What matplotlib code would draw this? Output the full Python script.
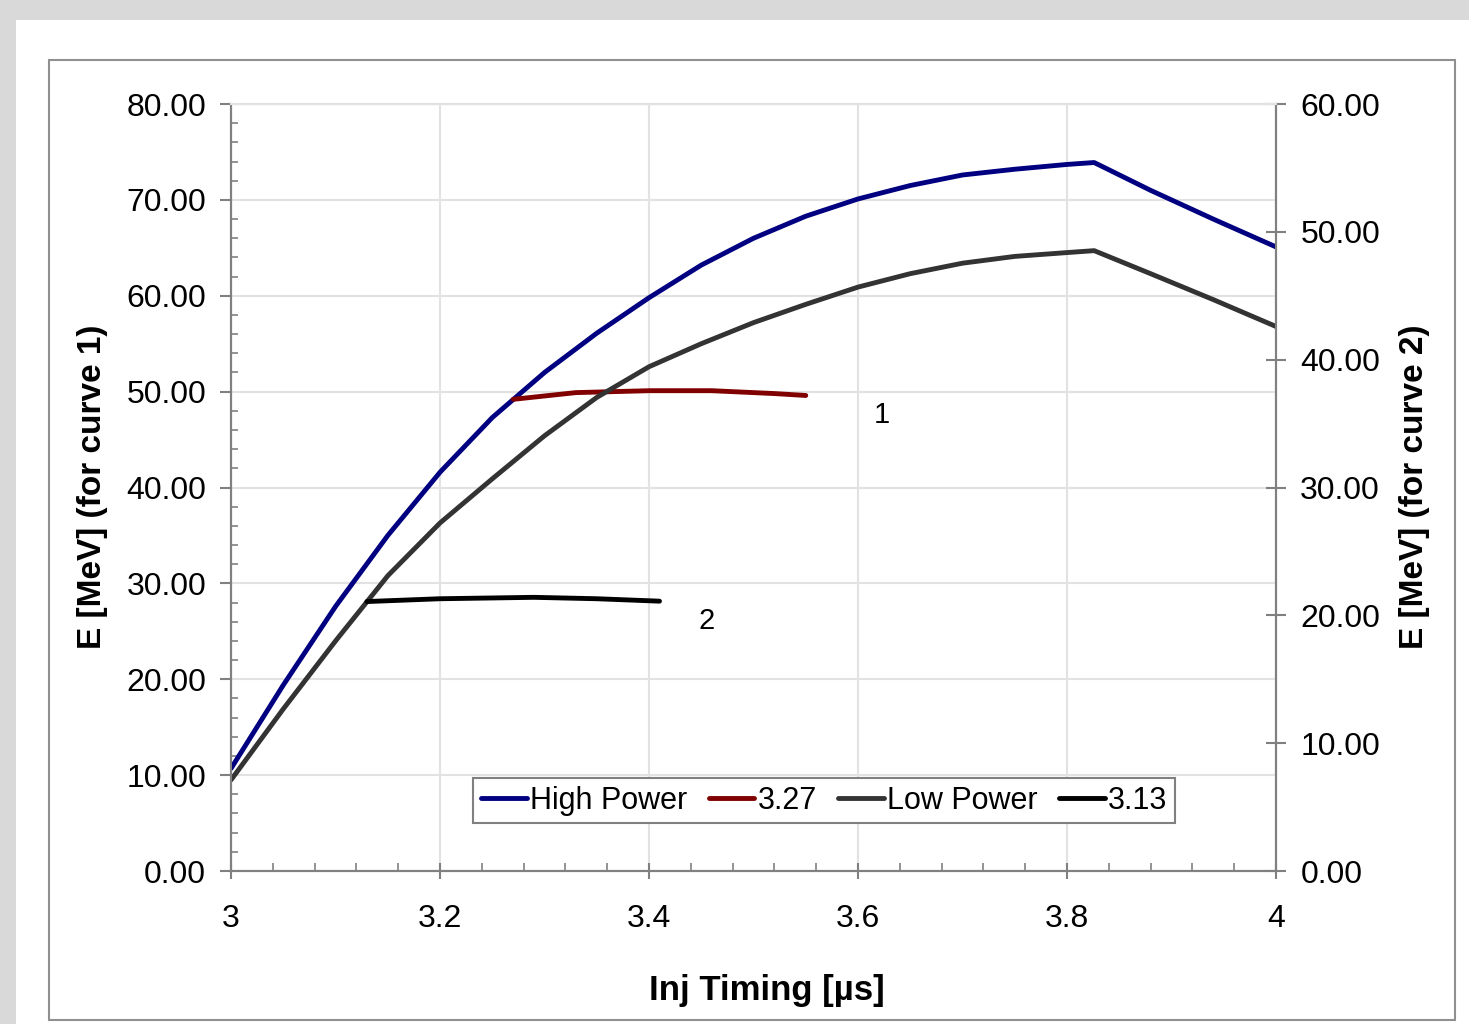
import matplotlib.pyplot as plt
from matplotlib.patches import Rectangle
from matplotlib.ticker import MultipleLocator, FormatStrFormatter

plt.rcParams['font.family'] = ['Liberation Sans', 'DejaVu Sans']

# High Power, read against the left axis (curve 1)
t_high = [3.00, 3.05, 3.10, 3.15, 3.20, 3.25, 3.30, 3.35, 3.40, 3.45, 3.50,
          3.55, 3.60, 3.65, 3.70, 3.75, 3.80, 3.826, 3.88, 3.94, 4.00]
e_high = [10.7, 19.4, 27.6, 35.0, 41.6, 47.3, 52.0, 56.1, 59.8, 63.2, 66.0,
          68.3, 70.1, 71.5, 72.6, 73.2, 73.7, 73.9, 71.0, 68.0, 65.1]

# 3.27 cut, left axis
t_327 = [3.27, 3.33, 3.40, 3.46, 3.52, 3.55]
e_327 = [49.2, 49.9, 50.1, 50.1, 49.8, 49.6]

# Low Power, read against the right axis (curve 2)
t_low = [3.00, 3.05, 3.10, 3.15, 3.20, 3.25, 3.30, 3.35, 3.40, 3.45, 3.50,
         3.55, 3.60, 3.65, 3.70, 3.75, 3.80, 3.826, 3.88, 3.94, 4.00]
e_low = [7.13, 12.68, 18.00, 23.10, 27.23, 30.68, 34.05, 37.05, 39.45, 41.25, 42.90,
         44.33, 45.68, 46.73, 47.55, 48.08, 48.38, 48.53, 46.73, 44.70, 42.60]

# 3.13 cut, right axis
t_313 = [3.13, 3.20, 3.29, 3.35, 3.41]
e_313 = [21.08, 21.30, 21.41, 21.30, 21.11]

fig = plt.figure(figsize=(14.69, 10.24), dpi=100, facecolor='#d9d9d9')
fig.patches.append(Rectangle((0.0109, 0), 0.9891, 0.9805, transform=fig.transFigure,
                             facecolor='white', edgecolor='none', zorder=-2))
fig.patches.append(Rectangle((0.0334, 0.004), 0.9571, 0.9374, transform=fig.transFigure,
                             facecolor='none', edgecolor='#909090', lw=1.5, zorder=-1))

ax = fig.add_axes([0.1573, 0.1494, 0.7113, 0.749])
ax2 = ax.twinx()

kw = dict(lw=3.5, solid_joinstyle='round', solid_capstyle='round')
ax.plot(t_high, e_high, color='#000080', label='High Power', zorder=3, **kw)
ax.plot(t_327, e_327, color='#800000', label='3.27', zorder=3, **kw)
l3, = ax2.plot(t_low, e_low, color='#333333', label='Low Power', **kw)
l4, = ax2.plot(t_313, e_313, color='black', label='3.13', **kw)

ax.set_xlim(3, 4)
ax.set_ylim(0, 80)
ax2.set_ylim(0, 60)

ax.xaxis.set_major_locator(MultipleLocator(0.2))
ax.xaxis.set_minor_locator(MultipleLocator(0.04))
ax.xaxis.set_major_formatter(FormatStrFormatter('%g'))
ax.yaxis.set_major_locator(MultipleLocator(10))
ax.yaxis.set_minor_locator(MultipleLocator(2))
ax.yaxis.set_major_formatter(FormatStrFormatter('%.2f'))
ax2.yaxis.set_major_locator(MultipleLocator(10))
ax2.yaxis.set_major_formatter(FormatStrFormatter('%.2f'))

ax.grid(True, which='major', color='#e2e2e2', lw=1.5)
ax.set_axisbelow(True)

for a in (ax, ax2):
    for s in a.spines.values():
        s.set_color('#808080')
        s.set_linewidth(1.5)
    a.spines['top'].set_color('#e2e2e2')

ax.tick_params(axis='y', which='major', direction='out', length=8, width=1.5,
               color='#808080', labelsize=23, pad=10)
ax.tick_params(axis='y', which='minor', direction='in', length=5, width=1.2, color='#808080')
ax.tick_params(axis='x', which='major', direction='inout', length=12, width=1.5,
               color='#808080', labelsize=23, pad=18)
ax.tick_params(axis='x', which='minor', direction='in', length=6, width=1.2, color='#808080')
ax2.tick_params(axis='y', which='major', direction='inout', length=15, width=1.5,
                color='#808080', labelsize=23, pad=10)

fig.text(0.0633, 0.525, 'E [MeV] (for curve 1)', rotation=90, ha='center', va='center',
         fontsize=24, fontweight='bold')
fig.text(0.9632, 0.525, 'E [MeV] (for curve 2)', rotation=90, ha='center', va='center',
         fontsize=24, fontweight='bold')
fig.text(0.5221, 0.0332, 'Inj Timing [\u00b5s]', ha='center', va='center',
         fontsize=25, fontweight='bold')

ax.text(3.623, 47.6, '1', fontsize=21, ha='center', va='center')
ax.text(3.455, 26.1, '2', fontsize=21, ha='center', va='center')

h1, lb1 = ax.get_legend_handles_labels()
leg = ax2.legend(h1 + [l3, l4], lb1 + ['Low Power', '3.13'], ncol=4, loc='center',
                 bbox_to_anchor=(0.561, 0.218), bbox_transform=fig.transFigure,
                 fontsize=22, frameon=True, fancybox=False, handlelength=1.5,
                 handletextpad=0.1, columnspacing=0.7, borderpad=0.25,
                 framealpha=1, edgecolor='#808080')
leg.get_frame().set_linewidth(1.5)

fig.savefig('out.png', dpi=100, facecolor=fig.get_facecolor())
